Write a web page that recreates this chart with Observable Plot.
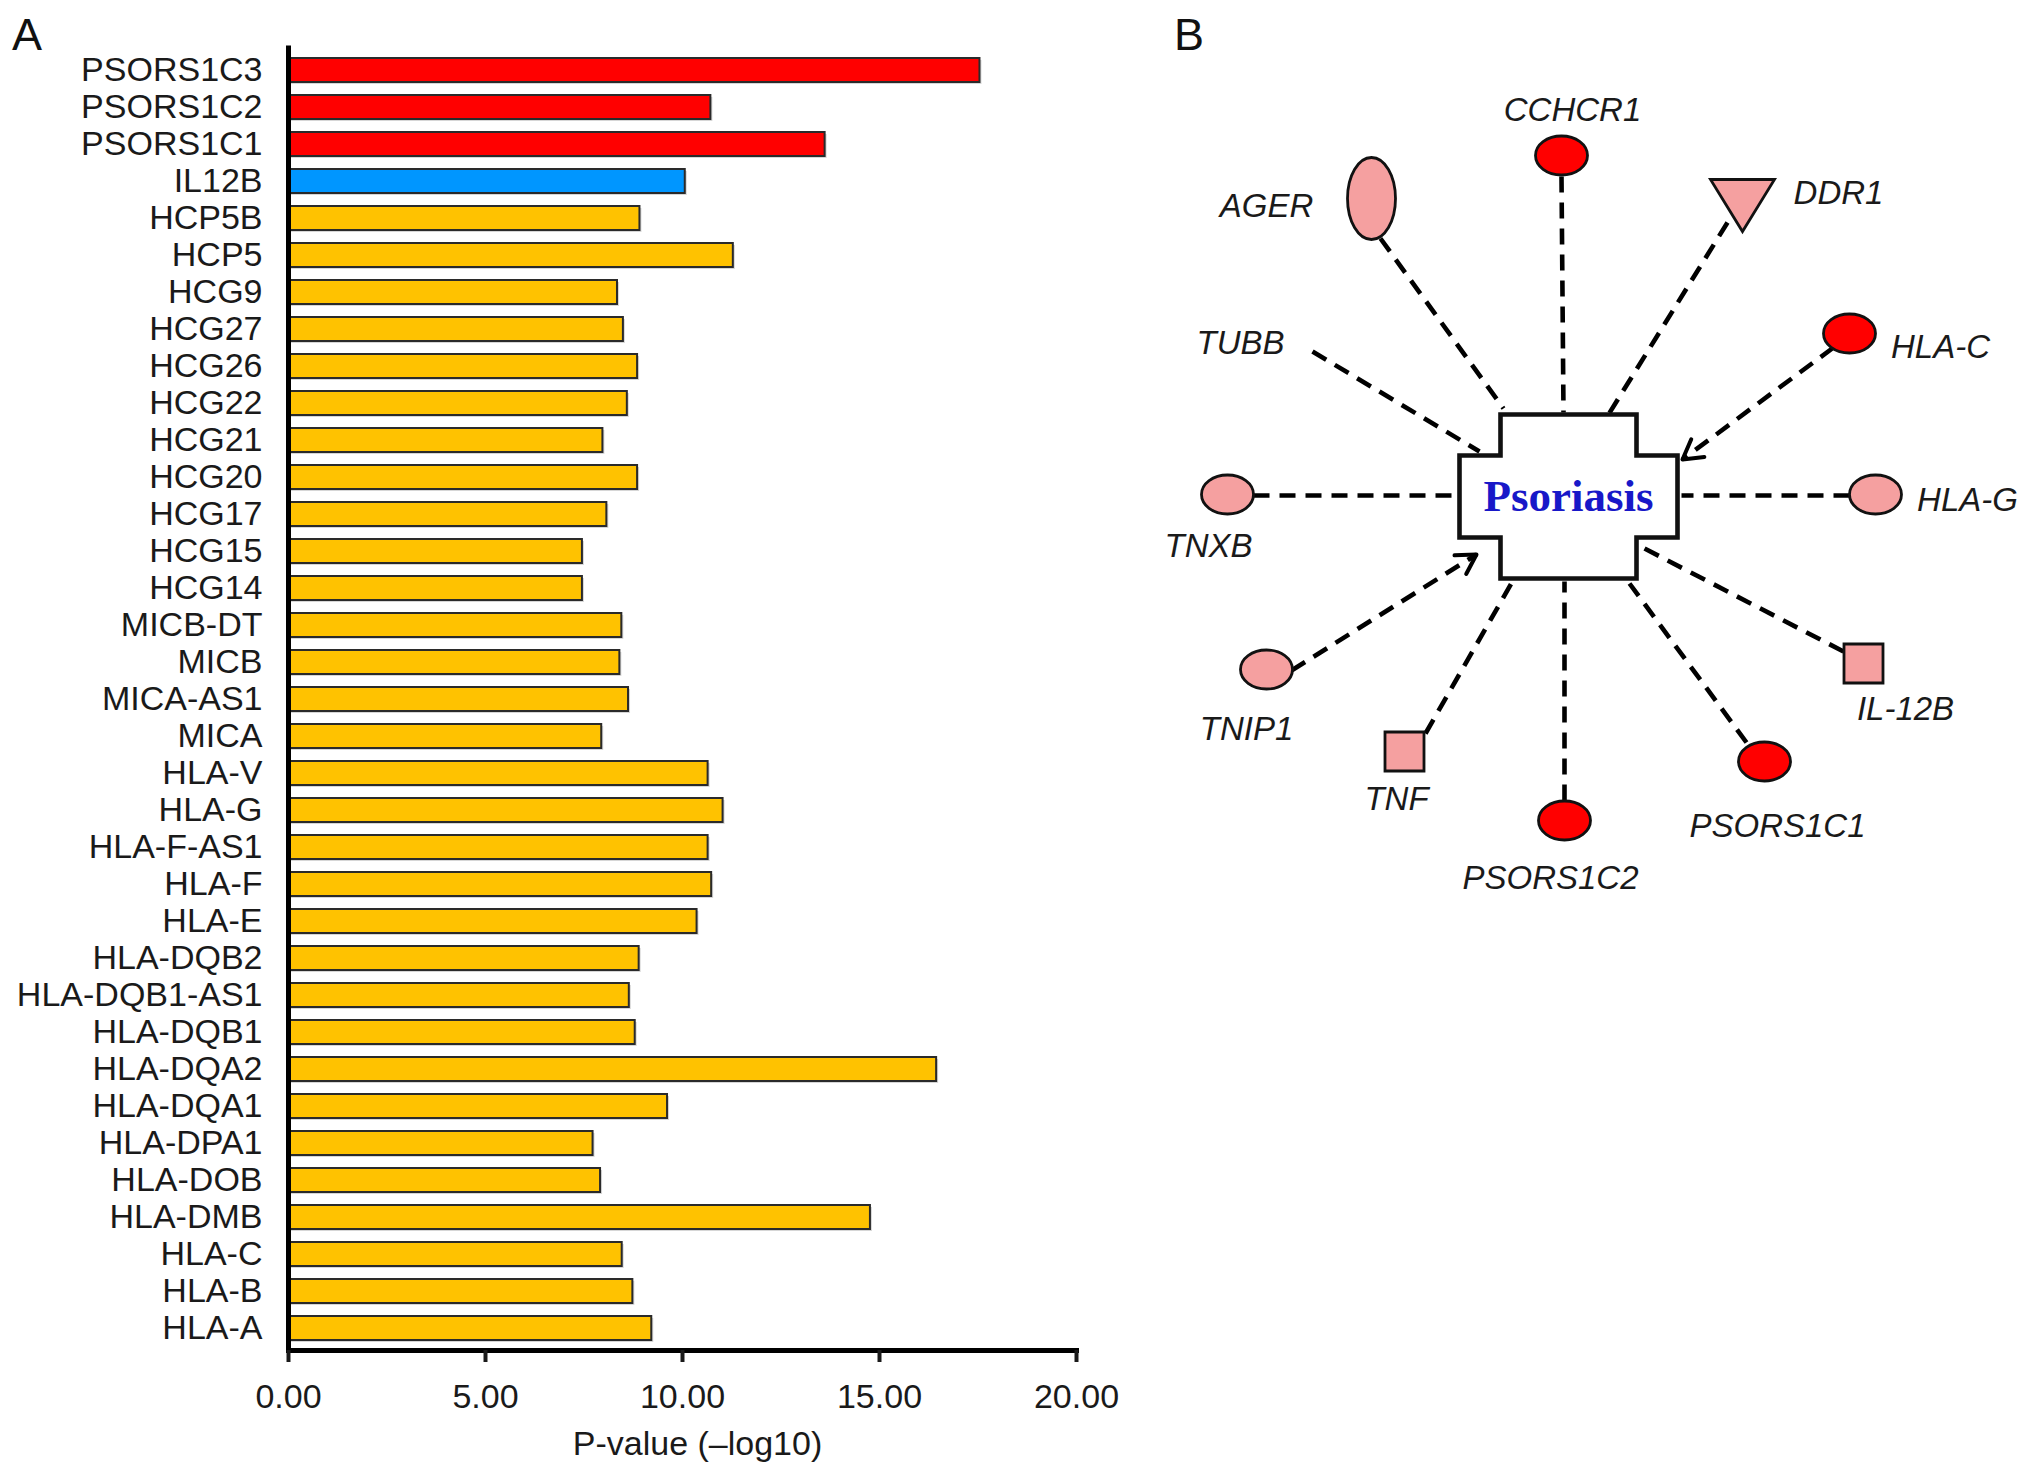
<!DOCTYPE html>
<html>
<head>
<meta charset="utf-8">
<script src="https://cdn.jsdelivr.net/npm/d3@7"></script>
<script src="https://cdn.jsdelivr.net/npm/@observablehq/plot@0.6"></script>
<style>
  html, body { margin: 0; padding: 0; background: #ffffff; }
  #fig { position: relative; width: 2032px; height: 1478px; background: #ffffff; overflow: hidden;
         font-family: "Liberation Sans", Arial, Helvetica, sans-serif; }
  .panel { position: absolute; font-size: 45px; line-height: 1; color: #111; }
  #barChart { position: absolute; left: 0; top: 0; }
  #network { position: absolute; left: 1130px; top: 0; }
</style>
</head>
<body>
<div id="fig">
  <div id="barChart"></div>
  <div id="network"></div>
  <div class="panel" style="left:12px; top:12px;">A</div>
  <div class="panel" style="left:1174px; top:12px;">B</div>
</div>
<script>
// ---------------- Panel A data ----------------
const genes = ["PSORS1C3","PSORS1C2","PSORS1C1","IL12B","HCP5B","HCP5","HCG9","HCG27","HCG26","HCG22",
  "HCG21","HCG20","HCG17","HCG15","HCG14","MICB-DT","MICB","MICA-AS1","MICA","HLA-V","HLA-G","HLA-F-AS1",
  "HLA-F","HLA-E","HLA-DQB2","HLA-DQB1-AS1","HLA-DQB1","HLA-DQA2","HLA-DQA1","HLA-DPA1","HLA-DOB","HLA-DMB",
  "HLA-C","HLA-B","HLA-A"];
const pValues = [17.55,10.72,13.62,10.07,8.92,11.29,8.35,8.50,8.86,8.60,
  7.98,8.86,8.08,7.46,7.46,8.46,8.41,8.63,7.95,10.65,11.03,10.65,
  10.74,10.37,8.90,8.65,8.80,16.45,9.62,7.73,7.92,14.77,
  8.47,8.74,9.22];
const geneGroups = ["PSORS1C","PSORS1C","PSORS1C","IL12B","HLA region","HLA region","HLA region","HLA region","HLA region","HLA region",
  "HLA region","HLA region","HLA region","HLA region","HLA region","HLA region","HLA region","HLA region","HLA region","HLA region","HLA region","HLA region",
  "HLA region","HLA region","HLA region","HLA region","HLA region","HLA region","HLA region","HLA region","HLA region","HLA region",
  "HLA region","HLA region","HLA region"];
const groupNames = ["PSORS1C","IL12B","HLA region"];
const groupColors = ["#FF0000","#0096FF","#FFC200"];
const xTicks = [0, 5, 10, 15, 20];
const xTitle = "P-value (\u2013log10)";

// ---------------- Panel B data ----------------
const hubName = ["Psoriasis"];
const hubX = [1568];
const hubY = [496];

const nodeNames = ["CCHCR1","AGER","DDR1","HLA-C","TNXB","HLA-G","TNIP1","TNF","PSORS1C2","PSORS1C1","IL-12B"];
const nodeX = [1561,1371,1742,1849,1227,1875,1266,1404,1564,1764,1863];
const nodeY = [155,198,205,333,494,494,669,751,820,761,663];
const nodeShape = ["ellipse","tallEllipse","triangle","ellipse","ellipse","ellipse","ellipse","square","ellipse","ellipse","square"];
const nodeTier = ["strong","moderate","moderate","strong","moderate","moderate","moderate","moderate","strong","strong","moderate"];
const tierNames = ["strong","moderate"];
const tierColors = ["#FF0000","#F5A0A0"];

const labelNames = ["CCHCR1","AGER","DDR1","HLA-C","TUBB","TNXB","HLA-G","TNIP1","TNF","PSORS1C2","PSORS1C1","IL-12B"];
const labelX = [1572,1266,1838,1940,1240,1208,1967,1246,1396,1550,1777,1905];
const labelY = [110,206,193,347,343,546,500,729,799,878,826,709];

const linkGenes = ["CCHCR1","AGER","DDR1","HLA-C","TUBB","TNXB","HLA-G","TNIP1","TNF","PSORS1C2","PSORS1C1","IL-12B"];
const linkX1 = [1561,1380,1727,1833,1312,1253,1849,1291,1425,1564,1746,1843];
const linkY1 = [176,238,222,347,351,495,495,670,733,800,742,651];
const linkX2 = [1563,1503,1608,1682,1479,1452,1681,1476,1512,1564,1629,1642];
const linkY2 = [412,408,414,459,451,495,495,554,581,581,583,547];
const linkArrow = [false,false,false,true,false,false,false,true,false,false,false,false];

// ---------------- Panel A ----------------
const barData = genes.map((g, i) => ({gene: g, value: pValues[i], group: geneGroups[i]}));
const FONT = "'Liberation Sans', Arial, Helvetica, sans-serif";

const barPlot = Plot.plot({
  width: 1130,
  height: 1478,
  marginLeft: 288,
  marginRight: 54,
  marginTop: 48,
  marginBottom: 128,
  style: {fontFamily: FONT, fontSize: "34px", background: "transparent", color: "#1a1a1a"},
  x: {domain: [0, 20]},
  y: {domain: genes, paddingInner: 0.34, paddingOuter: 0.06},
  color: {domain: groupNames, range: groupColors},
  marks: [
    Plot.barX(barData, {x: "value", y: "gene", fill: "#000", fillOpacity: 0.16, dx: 2, dy: 2}),
    Plot.barX(barData, {x: "value", y: "gene", fill: "group", stroke: "#2a2a2a", strokeWidth: 2}),
    Plot.ruleX([0], {stroke: "#000", strokeWidth: 5, strokeLinecap: "square"}),
    Plot.frame({anchor: "bottom", stroke: "#000", strokeWidth: 5, strokeLinecap: "square"}),
    Plot.axisX({ticks: xTicks, tickSize: 12, strokeWidth: 4, tickPadding: 21, fontSize: 34,
      tickFormat: d => d.toFixed(2), label: null}),
    Plot.axisY({tickSize: 0, tickPadding: 26, fontSize: 34, label: null}),
    Plot.text([xTitle], {frameAnchor: "bottom", dy: 104, dx: 15, fontSize: 34, fill: "#1a1a1a"})
  ]
});
document.getElementById("barChart").appendChild(barPlot);

// ---------------- Panel B ----------------
function ellipseSymbol(rx, ry) {
  const k = 0.5523;
  return {draw(c) {
    c.moveTo(rx, 0);
    c.bezierCurveTo(rx, ry * k, rx * k, ry, 0, ry);
    c.bezierCurveTo(-rx * k, ry, -rx, ry * k, -rx, 0);
    c.bezierCurveTo(-rx, -ry * k, -rx * k, -ry, 0, -ry);
    c.bezierCurveTo(rx * k, -ry, rx, -ry * k, rx, 0);
    c.closePath();
  }};
}
const shapeSymbols = {
  ellipse: ellipseSymbol(26, 19.5),
  tallEllipse: ellipseSymbol(24, 41),
  triangle: {draw(c) { c.moveTo(-32, -26); c.lineTo(32, -26); c.lineTo(0, 26); c.closePath(); }},
  square: {draw(c) { c.moveTo(-19.5, -19.5); c.lineTo(19.5, -19.5); c.lineTo(19.5, 19.5); c.lineTo(-19.5, 19.5); c.closePath(); }}
};
const crossSymbol = {draw(c) {
  const W = 109, w = 68, H = 82, h = 41;
  c.moveTo(-w, -H); c.lineTo(w, -H); c.lineTo(w, -h); c.lineTo(W, -h); c.lineTo(W, h);
  c.lineTo(w, h); c.lineTo(w, H); c.lineTo(-w, H); c.lineTo(-w, h); c.lineTo(-W, h);
  c.lineTo(-W, -h); c.lineTo(-w, -h); c.closePath();
}};
const arrowHeadShape = {draw(c, l) {
  const a = Math.PI / 6;
  c.moveTo(-l * Math.sin(a), l * Math.cos(a));
  c.lineTo(0, 0);
  c.lineTo(l * Math.sin(a), l * Math.cos(a));
}};

const nodes = nodeNames.map((n, i) => ({name: n, x: nodeX[i], y: nodeY[i], shape: nodeShape[i], tier: nodeTier[i]}));
const labels = labelNames.map((n, i) => ({name: n, x: labelX[i], y: labelY[i]}));
const links = linkGenes.map((n, i) => ({name: n, x1: linkX1[i], y1: linkY1[i], x2: linkX2[i], y2: linkY2[i], arrow: linkArrow[i]}));
const hub = hubName.map((n, i) => ({name: n, x: hubX[i], y: hubY[i]}));

const shapeMarks = Object.keys(shapeSymbols).map(s =>
  Plot.dot(nodes.filter(d => d.shape === s), {x: "x", y: "y", symbol: shapeSymbols[s], r: 10,
    fill: "tier", stroke: "#111", strokeWidth: 2.8})
);

const netPlot = Plot.plot({
  width: 902,
  height: 1000,
  margin: 0,
  style: {fontFamily: FONT, background: "transparent", overflow: "visible"},
  x: {type: "linear", domain: [1130, 2032], range: [0, 902], axis: null},
  y: {type: "linear", domain: [0, 1000], range: [0, 1000], axis: null},
  color: {domain: tierNames, range: tierColors},
  marks: [
    Plot.link(links, {x1: "x1", y1: "y1", x2: "x2", y2: "y2", stroke: "#000", strokeWidth: 4.6,
      strokeDasharray: "16,10"}),
    Plot.vector(links.filter(d => d.arrow), {x: "x2", y: "y2", length: 22, anchor: "start",
      rotate: d => Math.atan2(d.x2 - d.x1, -(d.y2 - d.y1)) * 180 / Math.PI,
      shape: arrowHeadShape, stroke: "#000", strokeWidth: 4}),
    Plot.dot(hub, {x: "x", y: "y", symbol: crossSymbol, r: 10, fill: "#fff", stroke: "#111", strokeWidth: 4.6}),
    ...shapeMarks,
    Plot.text(labels, {x: "x", y: "y", text: "name", fontSize: 33, fontStyle: "italic", fill: "#1a1a1a",
      textAnchor: "middle", lineAnchor: "middle"}),
    Plot.text(hub, {x: "x", y: "y", text: "name", fontSize: 45, fontWeight: "bold",
      fontFamily: "'Liberation Serif', 'Times New Roman', serif", fill: "#1818C8",
      textAnchor: "middle", lineAnchor: "middle"})
  ]
});
document.getElementById("network").appendChild(netPlot);
</script>
</body>
</html>
